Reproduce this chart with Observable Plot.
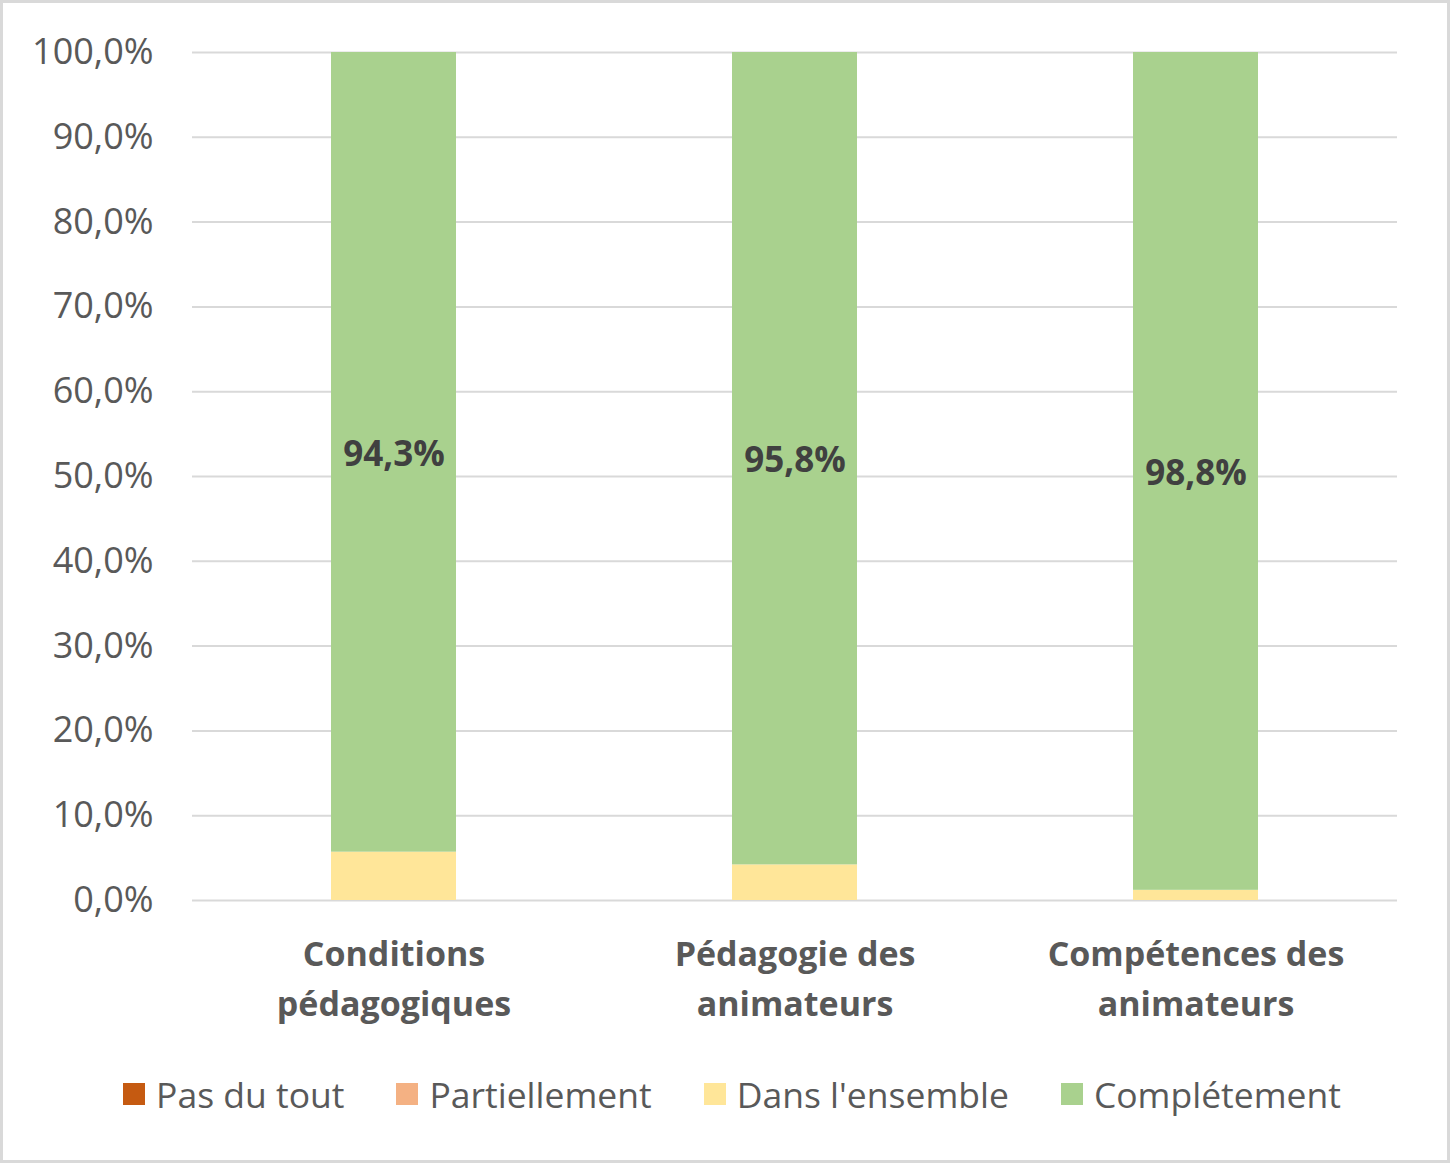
<!DOCTYPE html>
<html>
<head>
<meta charset="utf-8">
<script src="https://cdn.jsdelivr.net/npm/d3@7"></script>
<script src="https://cdn.jsdelivr.net/npm/@observablehq/plot@0.6"></script>
<style>
  html, body { margin: 0; padding: 0; background: #fff; }
  #wrap { position: relative; width: 1450px; height: 1163px; font-family: "Open Sans", sans-serif; }
  #chart { position: absolute; left: 0; top: 0; }
  #legend { position: absolute; left: 7px; top: 1070px; width: 1450px; display: flex; justify-content: center; gap: 52px; font-size: 35.5px; color: #595959; }
  .item { display: flex; align-items: center; gap: 11px; }
  .sw { width: 22px; height: 22px; display: inline-block; }
  #border { position: absolute; inset: 0; border: 3px solid #D9D9D9; pointer-events: none; }
</style>
</head>
<body>
<div id="wrap">
  <div id="chart"></div>
  <div id="legend"></div>
  <div id="border"></div>
</div>
<script>
const categories = ["Conditions\npédagogiques", "Pédagogie des\nanimateurs", "Compétences des\nanimateurs"];
const series = ["Pas du tout", "Partiellement", "Dans l'ensemble", "Complétement"];
const colors = ["#C55A11", "#F4B183", "#FFE699", "#A9D18E"];
const pasDuTout = [0, 0, 0];
const partiellement = [0, 0, 0];
const dansLEnsemble = [0.057, 0.042, 0.012];
const completement = [0.943, 0.958, 0.988];
const yTicks = [0, 0.1, 0.2, 0.3, 0.4, 0.5, 0.6, 0.7, 0.8, 0.9, 1.0];

const valuesBySeries = [pasDuTout, partiellement, dansLEnsemble, completement];
const data = [];
series.forEach((s, si) => {
  categories.forEach((c, ci) => data.push({category: c, series: s, value: valuesBySeries[si][ci]}));
});

const pct = v => (v * 100).toFixed(1).replace(".", ",") + "%";

const chart = Plot.plot({
  width: 1450,
  height: 1050,
  marginTop: 52,
  marginLeft: 192,
  marginRight: 53,
  marginBottom: 150,
  style: {fontFamily: "'Open Sans', sans-serif", color: "#595959", background: "transparent"},
  x: {domain: categories, paddingInner: 0.689, paddingOuter: 0.3445, label: null},
  y: {domain: [0, 1], label: null},
  color: {domain: series, range: colors},
  marks: [
    Plot.gridY(yTicks, {stroke: "#D9D9D9", strokeOpacity: 1, strokeWidth: 2}),
    Plot.barY(data, {x: "category", y: "value", fill: "series", order: series, z: "series"}),
    Plot.text(data, Plot.stackY({
      x: "category", y: "value", z: "series", order: series,
      text: d => d.series === "Complétement" ? pct(d.value) : null,
      fontSize: 35, fontWeight: "bold", fill: "#404040", dy: 2
    })),
    Plot.axisY({ticks: yTicks, tickFormat: pct, tickSize: 0, tickPadding: 39, fontSize: 36, fill: "#595959"}),
    Plot.axisX({tickSize: 0, tickPadding: 30, fontSize: 34, fontWeight: "bold", lineHeight: 1.47, fill: "#595959"})
  ]
});
document.getElementById("chart").appendChild(chart);

const legend = document.getElementById("legend");
series.forEach((s, i) => {
  const it = document.createElement("div");
  it.className = "item";
  const sw = document.createElement("span");
  sw.className = "sw";
  sw.style.background = colors[i];
  const tx = document.createElement("span");
  tx.textContent = s;
  it.appendChild(sw);
  it.appendChild(tx);
  legend.appendChild(it);
});
</script>
</body>
</html>
